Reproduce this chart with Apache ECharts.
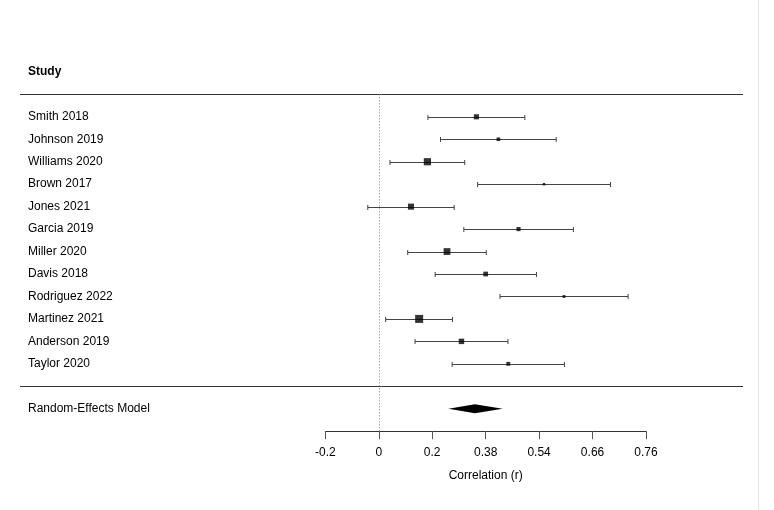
<!DOCTYPE html>
<html>
<head>
    <meta charset="UTF-8">
    <title>Forest plot</title>
    <script src="https://cdn.jsdelivr.net/npm/echarts@6/dist/echarts.min.js"></script>
    <style>
        html, body { margin: 0; padding: 0; background: #fff; }
        #chart { width: 774px; height: 510px; }
    </style>
</head>
<body>
<div id="chart"></div>
<script>
    // study data (correlations r, 95% CI in r)
    var studies = ['Smith 2018', 'Johnson 2019', 'Williams 2020', 'Brown 2017', 'Jones 2021', 'Garcia 2019',
        'Miller 2020', 'Davis 2018', 'Rodriguez 2022', 'Martinez 2021', 'Anderson 2019', 'Taylor 2020'];
    var estimate = [0.35, 0.42, 0.18, 0.55, 0.12, 0.48, 0.25, 0.38, 0.60, 0.15, 0.30, 0.45];
    var ciLower = [0.182, 0.227, 0.042, 0.354, -0.041, 0.308, 0.108, 0.208, 0.425, 0.026, 0.135, 0.268];
    var ciUpper = [0.498, 0.581, 0.311, 0.700, 0.275, 0.622, 0.382, 0.530, 0.732, 0.269, 0.449, 0.601];
    var sampleSize = [120, 85, 200, 65, 150, 95, 180, 110, 70, 250, 130, 90];

    // pooled random-effects estimate
    var pooled = [0.345, 0.255, 0.433];

    // axis ticks on the Fisher z scale, labelled back in r
    var tickLabels = ['-0.2', '0', '0.2', '0.38', '0.54', '0.66', '0.76'];

    var fz = function (r) { return Math.atanh(r); };
    var nStudy = studies.length;

    // row positions: first study at top
    var rowOf = function (i) { return nStudy - i; };

    // box size from random-effects style weight
    var weights = sampleSize.map(function (n) { return 1 / (1 / (n - 3) + 0.01); });
    var wMin = Math.min.apply(null, weights), wMax = Math.max.apply(null, weights);
    var boxSize = function (w) { return 2.5 + 5.5 * (w - wMin) / (wMax - wMin); };

    var ciData = [], boxData = [];
    for (var i = 0; i < nStudy; i++) {
        ciData.push([fz(ciLower[i]), fz(ciUpper[i]), rowOf(i)]);
        boxData.push({ value: [fz(estimate[i]), rowOf(i)], symbolSize: boxSize(weights[i]) });
    }

    var rowLabel = {};
    rowLabel[nStudy + 2] = '{b|Study}';
    for (var j = 0; j < nStudy; j++) rowLabel[rowOf(j)] = studies[j];
    rowLabel[-1] = 'Random-Effects Model';

    var txt = '#000';
    var font = 'Liberation Sans, Arial, sans-serif';

    var chart = echarts.init(document.getElementById('chart'));
    var option = {
        animation: false,
        backgroundColor: '#fff',
        textStyle: { fontFamily: font },
        grid: { left: 325.3, right: 128, top: 71.9, bottom: 78.8, containLabel: false },
        xAxis: {
            type: 'value',
            min: -0.2, max: 1.0, interval: 0.2,
            name: 'Correlation (r)',
            nameLocation: 'middle',
            nameGap: 38,
            nameTextStyle: { color: txt, fontSize: 12, fontFamily: font },
            axisLine: { show: true, onZero: false, lineStyle: { color: '#333', width: 1 } },
            axisTick: { show: true, length: 8, lineStyle: { color: '#555' } },
            splitLine: { show: false },
            axisLabel: {
                color: txt, fontSize: 12, margin: 15, fontFamily: font,
                formatter: function (v) {
                    var k = Math.round((v + 0.2) / 0.2);
                    return tickLabels[k] !== undefined ? tickLabels[k] : '';
                }
            }
        },
        yAxis: {
            type: 'value',
            min: -2, max: nStudy + 2, interval: 1,
            axisLine: { show: false },
            axisTick: { show: false },
            splitLine: { show: false },
            axisLabel: {
                align: 'left',
                margin: 297.3,
                color: txt, fontSize: 12, fontFamily: font,
                formatter: function (v) { return rowLabel[v] || ''; },
                rich: { b: { fontWeight: 'bold', fontSize: 12, color: txt, fontFamily: font } }
            }
        },
        series: [
            {
                // separator lines and zero reference line
                type: 'custom',
                silent: true,
                data: [[nStudy + 1], [0]],
                renderItem: function (params, api) {
                    var y = api.coord([0, api.value(0)])[1];
                    return {
                        type: 'line',
                        shape: { x1: 20, y1: Math.round(y) + 0.5, x2: 743, y2: Math.round(y) + 0.5 },
                        style: { stroke: '#333', lineWidth: 1 }
                    };
                },
                markLine: {
                    silent: true,
                    symbol: 'none',
                    label: { show: false },
                    lineStyle: { color: '#777', type: [1, 2], width: 1 },
                    data: [[{ coord: [0, nStudy + 1] }, { coord: [0, -2] }]]
                },
                z: 1
            },
            {
                // confidence intervals with end caps
                type: 'custom',
                silent: true,
                data: ciData,
                renderItem: function (params, api) {
                    var p1 = api.coord([api.value(0), api.value(2)]);
                    var p2 = api.coord([api.value(1), api.value(2)]);
                    var y = Math.round(p1[1]) + 0.5;
                    var h = 2.5;
                    var st = { stroke: '#444', lineWidth: 1 };
                    return {
                        type: 'group',
                        children: [
                            { type: 'line', shape: { x1: p1[0], y1: y, x2: p2[0], y2: y }, style: st },
                            { type: 'line', shape: { x1: p1[0], y1: y - h, x2: p1[0], y2: y + h }, style: st },
                            { type: 'line', shape: { x1: p2[0], y1: y - h, x2: p2[0], y2: y + h }, style: st }
                        ]
                    };
                },
                z: 2
            },
            {
                type: 'scatter',
                silent: true,
                symbol: 'rect',
                itemStyle: { color: '#000' },
                data: boxData,
                z: 3
            },
            {
                // pooled estimate diamond
                type: 'custom',
                silent: true,
                data: [[fz(pooled[0]), fz(pooled[1]), fz(pooled[2]), -1]],
                renderItem: function (params, api) {
                    var c = api.coord([api.value(0), api.value(3)]);
                    var l = api.coord([api.value(1), api.value(3)]);
                    var r = api.coord([api.value(2), api.value(3)]);
                    var h = 4.5;
                    return {
                        type: 'polygon',
                        shape: { points: [[l[0], c[1]], [c[0], c[1] - h], [r[0], c[1]], [c[0], c[1] + h]] },
                        style: { fill: '#000' }
                    };
                },
                z: 3
            }
        ],
        graphic: [{
            type: 'line',
            silent: true,
            shape: { x1: 758.5, y1: 0, x2: 758.5, y2: 510 },
            style: { stroke: '#e2e2e8', lineWidth: 1 }
        }]
    };
    chart.setOption(option);
</script>
</body>
</html>
